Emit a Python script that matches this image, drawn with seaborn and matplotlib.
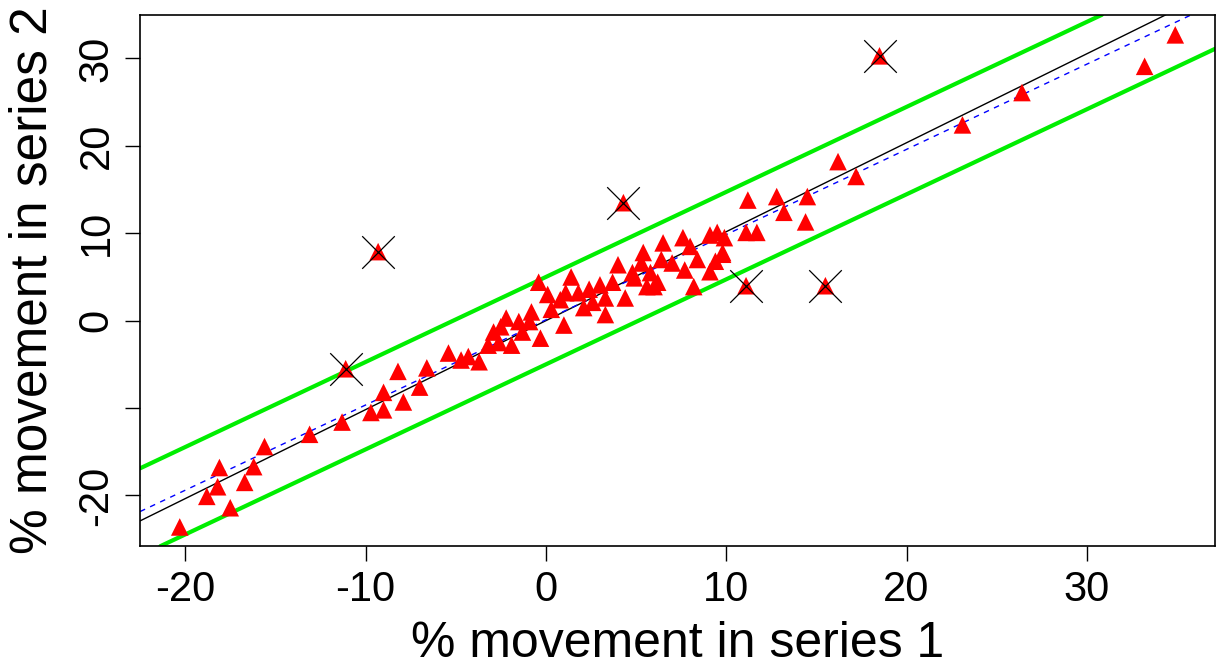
import numpy as np
import pandas as pd
import matplotlib
matplotlib.use("Agg")
import matplotlib.pyplot as plt
import seaborn as sns

# ---- data ----
series1 = [-20.3, -18.8, -18.1, -18.2, -17.5, -16.7, -16.2, -15.6, -13.1, -11.3,
           -11.1, -9.7, -9.0, -9.0, -7.9, -8.2, -7.0, -6.6, -9.3, -5.4,
           -4.7, -4.3, -3.7, -3.2, -2.5, -2.6, -1.9, -1.5, -0.8, -0.3,
           -0.4, 0.1, 0.3, 1.0, 1.1, 1.4, 1.8, 2.4, 2.1, 3.3,
           3.3, 4.0, 4.4, 4.8, 5.4, 5.6, 6.5, 6.4, 5.3, 5.8,
           4.9, 6.2, 7.0, 7.6, 8.0, 8.4, 8.2, 9.1, 9.5, 9.1,
           9.8, 11.1, 6.0, 9.9, 9.8, 4.3, 11.1, 15.5, 18.5, 11.2,
           11.7, 12.8, 13.2, 14.5, 14.4, 16.2, 17.2, 23.1, 26.4, 33.2,
           34.9, -2.9, -2.2, -1.3, -0.9, 3.0, 3.7, 7.7, 9.4, 2.6, 0.8]
series2 = [-23.6, -20.1, -16.8, -19.0, -21.4, -18.5, -16.7, -14.4, -13.0, -11.6,
           -5.5, -10.5, -10.2, -8.2, -9.3, -5.8, -7.6, -5.4, 7.9, -3.7,
           -4.5, -4.1, -4.7, -2.8, -0.7, -2.5, -2.8, -0.1, 1.0, -2.0,
           4.4, 3.0, 1.3, -0.5, 3.2, 5.0, 3.2, 3.6, 1.5, 2.6,
           0.7, 6.4, 2.6, 5.5, 7.8, 3.9, 8.9, 7.0, 6.6, 5.5,
           4.9, 4.4, 6.6, 9.5, 8.5, 7.0, 3.9, 9.8, 10.1, 5.6,
           7.8, 10.1, 3.9, 9.5, 7.6, 13.5, 4.0, 4.0, 30.3, 13.8,
           10.1, 14.2, 12.4, 14.2, 11.3, 18.2, 16.5, 22.4, 26.1, 29.1,
           32.7, -1.3, 0.3, -1.3, -0.1, 4.1, 4.4, 5.8, 6.8, 2.1, 2.4]

# flagged outliers (crosses)
outlier_s1 = [-11.1, -9.3, 4.3, 11.1, 15.5, 18.5]
outlier_s2 = [-5.5, 7.9, 13.5, 4.0, 4.0, 30.3]

# fitted lines: (intercept, slope)
fit_black = (0.0, 1.018)
fit_blue = (0.1, 0.975)
band_upper = (5.0, 0.973)
band_lower = (-5.0, 0.973)

x_ticks = [-20, -10, 0, 10, 20, 30]
y_ticks = [-20, -10, 0, 10, 20, 30]
y_ticklabels = ["-20", "", "0", "10", "20", "30"]

df = pd.DataFrame({"s1": series1, "s2": series2})
df_out = pd.DataFrame({"s1": outlier_s1, "s2": outlier_s2})

sns.set_style("white")
plt.rcParams["font.family"] = ["Liberation Sans", "DejaVu Sans"]
plt.rcParams["axes.unicode_minus"] = False
plt.rcParams["text.color"] = "black"
plt.rcParams["axes.labelcolor"] = "black"
plt.rcParams["xtick.color"] = "black"
plt.rcParams["ytick.color"] = "black"

fig, ax = plt.subplots(figsize=(12.18, 6.71), dpi=100)
fig.subplots_adjust(left=0.115, right=0.9975, top=0.978, bottom=0.186)

ax.set_xlim(-22.5, 37.1)
ax.set_ylim(-25.8, 35.0)

for (b, m), col, ls, lw in [(band_upper, "#00ee00", "-", 3.0),
                            (band_lower, "#00ee00", "-", 3.0),
                            (fit_black, "black", "-", 1.0),
                            (fit_blue, "blue", (0, (4, 4)), 1.0)]:
    ax.axline((0, b), slope=m, color=col, ls=ls, lw=lw, zorder=2)

sns.scatterplot(data=df, x="s1", y="s2", marker="^", color="red", s=160,
                edgecolor="none", ax=ax, zorder=3)
sns.scatterplot(data=df_out, x="s1", y="s2", marker="x", color="black", s=550,
                linewidth=0.9, ax=ax, zorder=4)

ax.set_xticks(x_ticks)
ax.set_yticks(y_ticks)
ax.set_yticklabels(y_ticklabels, rotation=90, va="center")
ax.tick_params(axis="both", direction="out", length=11, width=1, labelsize=30,
               labelcolor="black", color="black", pad=6, left=True, bottom=True)
ax.set_xlabel("% movement in series 1", fontsize=36, labelpad=8, color="black")
ax.set_ylabel("% movement in series 2", fontsize=37, labelpad=14, color="black")
for sp in ax.spines.values():
    sp.set_color("black")
    sp.set_linewidth(1.2)

fig.savefig("out.png", dpi=100)
